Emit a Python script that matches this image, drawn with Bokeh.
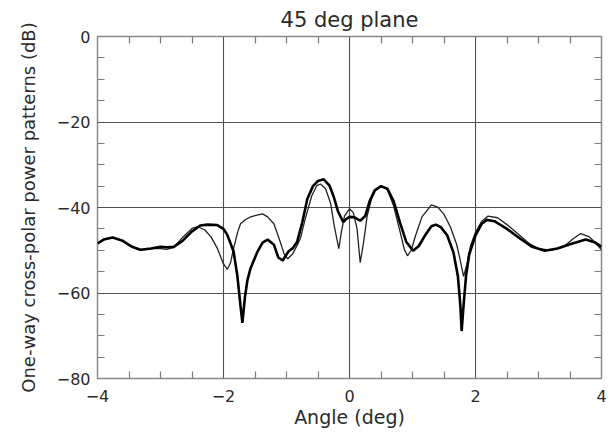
from bokeh.plotting import figure
from bokeh.models import LinearAxis, FixedTicker, Range1d
from bokeh.embed import file_html
from bokeh.resources import INLINE

# Cross-polar power pattern, 45 deg plane: two patterns (thick and thin trace)
angle_thick = [-4.0, -3.9, -3.76, -3.6, -3.45, -3.32, -3.15, -3.0, -2.9, -2.79,
               -2.65, -2.5, -2.37, -2.25, -2.1, -2.0, -1.94, -1.84, -1.78, -1.73,
               -1.70, -1.66, -1.62, -1.57, -1.46, -1.38, -1.30, -1.2, -1.13, -1.06,
               -0.97, -0.9, -0.83, -0.75, -0.67, -0.58, -0.5, -0.41, -0.32, -0.25,
               -0.18, -0.1, -0.05, 0.0, 0.08, 0.17, 0.25, 0.32, 0.4, 0.5,
               0.6, 0.7, 0.8, 0.9, 1.01, 1.1, 1.2, 1.3, 1.37, 1.45,
               1.55, 1.65, 1.72, 1.76, 1.78, 1.81, 1.85, 1.9, 2.0, 2.1,
               2.18, 2.3, 2.5, 2.7, 2.9, 3.1, 3.3, 3.5, 3.75, 3.9, 4.0]
power_thick = [-48.4, -47.5, -47.0, -47.8, -49.2, -49.9, -49.6, -49.2, -49.3, -49.2,
               -47.8, -45.6, -44.2, -44.0, -44.1, -45.0, -46.4, -50.3, -56.0, -63.0,
               -67.0, -61.0, -57.0, -54.2, -50.3, -48.2, -47.5, -48.7, -51.7, -52.4,
               -50.3, -49.5, -48.0, -43.5, -38.0, -35.0, -33.8, -33.4, -34.8, -37.5,
               -41.0, -43.4, -42.7, -42.2, -42.3, -43.1, -42.0, -38.5, -36.0, -35.0,
               -35.6, -38.5, -43.5, -48.0, -50.1, -49.0, -46.5, -44.4, -44.0, -44.6,
               -46.5, -50.5, -56.0, -63.0, -68.9, -63.0, -56.0, -51.0, -46.5, -43.8,
               -42.9, -43.2, -45.0, -47.2, -49.2, -50.1, -49.6, -48.6, -47.5, -48.2, -49.2]

angle_thin = [-4.0, -3.9, -3.76, -3.6, -3.45, -3.32, -3.15, -3.0, -2.9, -2.79,
              -2.65, -2.5, -2.41, -2.3, -2.2, -2.1, -2.0, -1.94, -1.89, -1.84,
              -1.78, -1.73, -1.65, -1.57, -1.45, -1.38, -1.3, -1.2, -1.1, -1.04,
              -0.98, -0.9, -0.83, -0.78, -0.7, -0.6, -0.52, -0.46, -0.38, -0.3,
              -0.24, -0.17, -0.13, -0.08, 0.0, 0.06, 0.12, 0.17, 0.22, 0.28,
              0.35, 0.42, 0.5, 0.6, 0.7, 0.8, 0.87, 0.92, 0.98, 1.05,
              1.15, 1.3, 1.4, 1.5, 1.6, 1.7, 1.76, 1.81, 1.86, 1.92,
              2.0, 2.1, 2.2, 2.35, 2.5, 2.7, 2.85, 3.0, 3.2, 3.4,
              3.55, 3.67, 3.8, 3.9, 4.0]
power_thin = [-48.4, -47.4, -47.0, -47.8, -49.3, -50.0, -49.6, -49.6, -49.8, -49.3,
              -47.0, -44.9, -44.5, -45.2, -46.8, -49.5, -53.2, -54.5, -53.0, -49.6,
              -46.0, -43.8, -42.8, -42.2, -41.7, -41.5, -42.2, -43.8, -48.0, -50.8,
              -52.0, -50.8, -48.8, -47.3, -42.5, -37.3, -34.9, -34.5, -35.6, -39.0,
              -44.5, -49.6, -45.8, -42.0, -40.3, -41.2, -45.0, -52.9, -48.5, -42.0,
              -38.0, -35.8, -35.0, -35.8, -39.6, -45.5, -49.8, -51.3, -50.0, -46.5,
              -42.2, -39.4, -39.9, -41.6, -44.5, -48.6, -52.5, -56.1, -53.5, -49.0,
              -45.8, -43.2, -42.0, -42.4, -44.0, -46.5, -48.4, -49.6, -50.0, -49.2,
              -47.3, -46.1, -46.8, -48.2, -49.9]

x_major = [-4, -2, 0, 2, 4]
x_minor = [-3.5, -3, -2.5, -1.5, -1, -0.5, 0.5, 1, 1.5, 2.5, 3, 3.5]
y_major = [-80, -60, -40, -20, 0]
y_minor = [-75, -70, -65, -55, -50, -45, -35, -30, -25, -15, -10, -5]
x_labels = {-4: "\u22124", -2: "\u22122", 0: "0", 2: "2", 4: "4"}
y_labels = {-80: "\u221280", -60: "\u221260", -40: "\u221240", -20: "\u221220", 0: "0"}

FONT = "DejaVu Sans"
TEXT = "#2a2a2a"

p = figure(width=613, height=433, output_backend="svg", toolbar_location=None,
           x_range=Range1d(-4, 4), y_range=Range1d(-80, 0),
           min_border_left=97, min_border_right=12, min_border_top=33,
           min_border_bottom=55, title="45 deg plane")

p.title.align = "center"
p.title.text_font = FONT
p.title.text_font_size = "21px"
p.title.text_font_style = "normal"
p.title.text_color = TEXT

p.outline_line_color = "#8a8a8a"
p.outline_line_width = 1.5
p.background_fill_color = "white"
p.border_fill_color = "white"

p.xgrid.ticker = FixedTicker(ticks=x_major)
p.ygrid.ticker = FixedTicker(ticks=y_major)
for g in (p.xgrid, p.ygrid):
    g.grid_line_color = "#505050"
    g.grid_line_width = 1.1


def style_axis(ax, ticks, minor, labels=None):
    ax.ticker = FixedTicker(ticks=ticks, minor_ticks=minor)
    ax.axis_line_color = None
    ax.major_tick_in = 0
    ax.major_tick_out = 0
    ax.minor_tick_in = 7
    ax.minor_tick_out = 0
    ax.minor_tick_line_color = "#7a7a7a"
    ax.minor_tick_line_width = 1.2
    if labels is not None:
        ax.major_label_overrides = labels
        ax.major_label_text_font = FONT
        ax.major_label_text_font_size = "16px"
        ax.major_label_text_color = TEXT


xa = p.xaxis[0]
ya = p.yaxis[0]
style_axis(xa, x_major, x_minor, x_labels)
style_axis(ya, y_major, y_minor, y_labels)
xa.major_label_standoff = 11
ya.major_label_standoff = 7
xa.axis_label = "Angle (deg)"
ya.axis_label = "One-way cross-polar power patterns (dB)"
for ax in (xa, ya):
    ax.axis_label_text_font = FONT
    ax.axis_label_text_font_style = "normal"
    ax.axis_label_text_color = TEXT
xa.axis_label_text_font_size = "19px"
ya.axis_label_text_font_size = "18px"
xa.axis_label_standoff = 1
ya.axis_label_standoff = 15

# mirrored minor ticks on the top and right edges, no labels
top = LinearAxis()
right = LinearAxis()
style_axis(top, [], x_minor)
style_axis(right, [], y_minor)
p.add_layout(top, "above")
p.add_layout(right, "right")

p.line(angle_thin, power_thin, line_color="#222222", line_width=1.3)
p.line(angle_thick, power_thick, line_color="black", line_width=2.6)

open("out.html", "w").write(file_html(p, INLINE))
